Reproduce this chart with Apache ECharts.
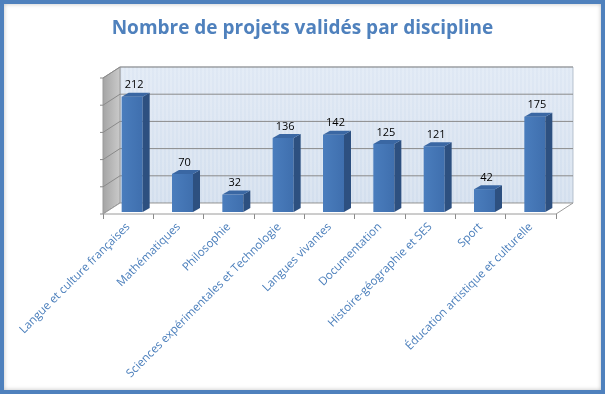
<!DOCTYPE html>
<html><head><meta charset="utf-8">
<script src="https://cdn.jsdelivr.net/npm/echarts@6/dist/echarts.min.js"></script>
<style>html,body{margin:0;padding:0;background:#fff}#c{width:605px;height:394px}</style>
</head><body><div id="c"></div>
<script>
const categories = ["Langue et culture françaises","Mathématiques","Philosophie","Sciences expérimentales et Technologie","Langues vivantes","Documentation","Histoire-géographie et SES","Sport","Éducation artistique et culturelle"];
const values = [212,70,32,136,142,125,121,42,175];
const yTicks = [0,50,100,150,200,250];

const DX = 17, DY = -11; // wall depth
const chart = echarts.init(document.getElementById('c'));

function wallsItem(params, api){
  if (params.dataIndex !== 0) return null;
  const cs = params.coordSys;
  const x = cs.x, y = cs.y, w = cs.width, h = cs.height;
  const ch = [];
  ch.push({type:'rect', shape:{x:x+DX, y:y+DY, width:w, height:h},
    style:{fill:new echarts.graphic.LinearGradient(0,0,0,1,[{offset:0,color:'#dfe8f4'},{offset:1,color:'#d3dfee'}]), stroke:'#b9c3cf', lineWidth:1}});
  for (let sx = x+DX+3; sx < x+DX+w; sx += 4) {
    ch.push({type:'line', shape:{x1:sx, y1:y+DY, x2:sx, y2:y+DY+h}, style:{stroke:'rgba(255,255,255,0.35)', lineWidth:1}});
  }
  ch.push({type:'polygon', shape:{points:[[x,y+h],[x,y],[x+DX,y+DY],[x+DX,y+h+DY]]},
    style:{fill:new echarts.graphic.LinearGradient(0,0,1,0,[{offset:0,color:'#a4a4a4'},{offset:1,color:'#cbcbcb'}]), stroke:'#9a9a9a', lineWidth:1}});
  yTicks.forEach(v => {
    const py = api.coord([0, v])[1];
    if (v > 0) ch.push({type:'line', shape:{x1:x+DX, y1:py+DY, x2:x+DX+w, y2:py+DY}, style:{stroke:'#8a8a8a', lineWidth:1}});
    ch.push({type:'line', shape:{x1:x, y1:py, x2:x+DX, y2:py+DY}, style:{stroke:'#8a8a8a', lineWidth:1}});
    ch.push({type:'line', shape:{x1:x-3, y1:py, x2:x, y2:py}, style:{stroke:'#8a8a8a', lineWidth:1}});
  });
  ch.push({type:'polygon', shape:{points:[[x,y+h],[x+w,y+h],[x+w+DX,y+h+DY],[x+DX,y+h+DY]]},
    style:{fill:'#ffffff', stroke:'#9a9a9a', lineWidth:1}});
  return {type:'group', children:ch};
}

const BW = 21, BOX = 4, BOY = -2, BDX = 7, BDY = -4;
function barItem(params, api){
  const i = api.value(0), v = api.value(1);
  const p0 = api.coord([i, 0]), p1 = api.coord([i, v]);
  const xl = p0[0] - BW/2 + BOX, xr = xl + BW;
  const yb = p0[1] + BOY, yt = p1[1] + BOY;
  return {type:'group', children:[
    {type:'rect', shape:{x:xl, y:yt, width:BW, height:yb-yt},
      style:{fill:new echarts.graphic.LinearGradient(0,0,1,0,[{offset:0,color:'#4a7dbd'},{offset:1,color:'#3f6fae'}])}},
    {type:'polygon', shape:{points:[[xr,yb],[xr,yt],[xr+BDX,yt+BDY],[xr+BDX,yb+BDY]]}, style:{fill:'#2d5080'}},
    {type:'polygon', shape:{points:[[xl,yt],[xr,yt],[xr+BDX,yt+BDY],[xl+BDX,yt+BDY]]}, style:{fill:'#3a67a3'}},
    {type:'text', style:{text:String(v), x:(xl+xr)/2 + 2, y:yt+BDY-2, textAlign:'center', textVerticalAlign:'bottom',
      fill:'#000', font:'11px "Open Sans", sans-serif'}}
  ]};
}

chart.setOption({
  animation:false,
  title:{text:'Nombre de projets validés par discipline', left:'center', top:14,
    textStyle:{color:'#4f81bd', fontSize:19, fontWeight:'bold', fontFamily:'"Open Sans", sans-serif'}},
  graphic:[{type:'rect', shape:{x:2, y:2, width:601, height:390}, style:{fill:'none', stroke:'#4f81bd', lineWidth:4,
    shadowBlur:4, shadowColor:'rgba(0,0,0,0.25)'}, z:100}],
  grid:{left:103, right:49, top:78, bottom:180},
  xAxis:{type:'category', data:categories,
    axisLine:{show:false}, axisTick:{show:true, length:5, lineStyle:{color:'#8a8a8a'}},
    axisLabel:{rotate:45, interval:0, margin:11, color:'#4a7ebb', fontSize:11.5, fontFamily:'"Open Sans", sans-serif'}},
  yAxis:{type:'value', min:0, max:250, interval:50, axisLabel:{show:false}, axisLine:{show:false}, axisTick:{show:false}, splitLine:{show:false}},
  series:[
    {type:'custom', renderItem:wallsItem, data:[[0,0]], z:1, silent:true},
    {type:'custom', renderItem:barItem, data:values.map((v,i)=>[i,v]), z:2}
  ]
});
</script></body></html>
